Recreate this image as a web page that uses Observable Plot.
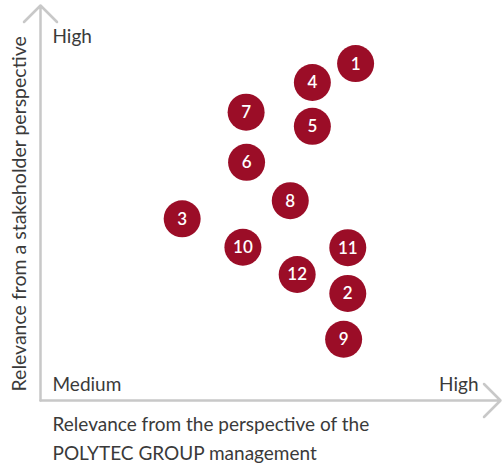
<!DOCTYPE html>
<html>
<head>
<meta charset="utf-8">
<script src="https://cdn.jsdelivr.net/npm/d3@7"></script>
<script src="https://cdn.jsdelivr.net/npm/@observablehq/plot@0.6"></script>
<style>
  html, body { margin: 0; padding: 0; background: #fff; }
  #chart svg { display: block; }
</style>
</head>
<body>
<div id="chart"></div>
<script>
// Topic numbers
const topics = ["1", "2", "3", "4", "5", "6", "7", "8", "9", "10", "11", "12"];
// Relevance from the perspective of the POLYTEC GROUP management (0 = medium, 10 = high)
const managementRelevance = [6.85, 6.68, 3.08, 5.91, 5.91, 4.48, 4.47, 5.43, 6.59, 4.40, 6.68, 5.58];
// Relevance from a stakeholder perspective (0 = medium, 10 = high)
const stakeholderRelevance = [8.53, 2.71, 4.60, 8.05, 6.94, 6.03, 7.30, 5.06, 1.55, 3.88, 3.87, 3.19];
// Axis end labels
const axisLow = "Medium";
const axisHigh = "High";
const xTitle = "Relevance from the perspective of the\nPOLYTEC GROUP management";
const yTitle = "Relevance from a stakeholder perspective";

const data = topics.map((t, i) => ({topic: t, x: managementRelevance[i], y: stakeholderRelevance[i]}));

const red = "#9b0d27";
const grey = "#c8c8c8";
const ink = "#3a3a3a";
const font = "Lato, 'Open Sans', sans-serif";

const chart = Plot.plot({
  width: 502,
  height: 467,
  marginLeft: 40,
  marginRight: 2,
  marginTop: 5,
  marginBottom: 67,
  x: {domain: [0, 10], axis: null},
  y: {domain: [0, 10], axis: null},
  style: {fontFamily: font, background: "#fff"},
  marks: [
    Plot.arrow([{x1: 0, y1: 0, x2: 10, y2: 0}], {x1: "x1", y1: "y1", x2: "x2", y2: "y2", stroke: grey, strokeWidth: 2.5, headAngle: 90, headLength: 14}),
    Plot.arrow([{x1: 0, y1: 0, x2: 0, y2: 10}], {x1: "x1", y1: "y1", x2: "x2", y2: "y2", stroke: grey, strokeWidth: 2.5, headAngle: 90, headLength: 14}),
    Plot.dot(data, {x: "x", y: "y", r: 18.5, fill: red}),
    Plot.text(data, {x: "x", y: "y", text: "topic", fill: "#fff", fontSize: 17, fontWeight: 600, dy: 0.5}),
    Plot.text([axisHigh], {frameAnchor: "top-left", textAnchor: "start", lineAnchor: "bottom", dx: 12, dy: 37, fontSize: 19, fill: ink}),
    Plot.text([axisLow], {frameAnchor: "bottom-left", textAnchor: "start", lineAnchor: "bottom", dx: 12, dy: -10, fontSize: 19, fill: ink}),
    Plot.text([axisHigh], {frameAnchor: "bottom-right", textAnchor: "end", lineAnchor: "bottom", dx: -22, dy: -10, fontSize: 19, fill: ink}),
    Plot.text([xTitle], {frameAnchor: "bottom-left", textAnchor: "start", lineAnchor: "bottom", dx: 12, dy: 59, fontSize: 19, lineHeight: 1.5, fill: ink}),
    Plot.text([yTitle], {frameAnchor: "bottom-left", textAnchor: "start", lineAnchor: "bottom", rotate: -90, dx: -15, dy: -9, fontSize: 19.5, fill: ink})
  ]
});
document.getElementById("chart").appendChild(chart);
</script>
</body>
</html>
